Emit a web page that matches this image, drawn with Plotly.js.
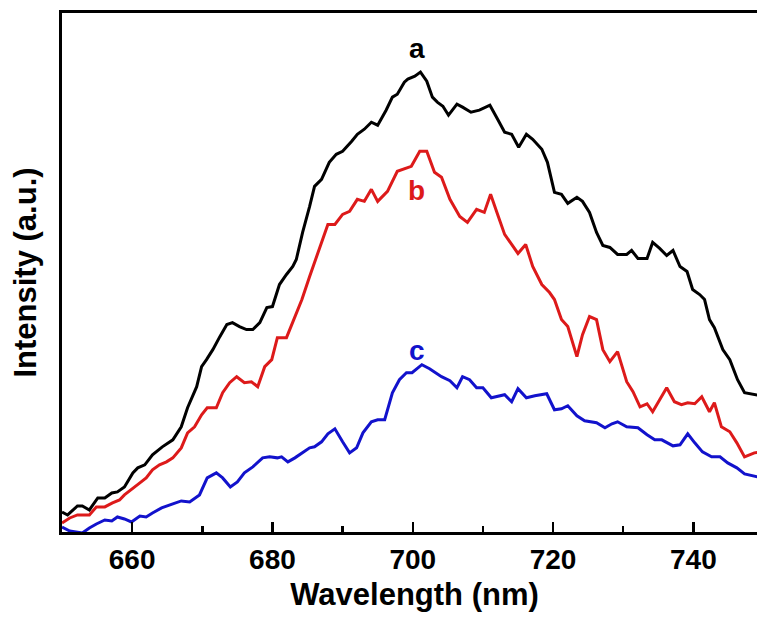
<!DOCTYPE html>
<html>
<head>
<meta charset="utf-8">
<script src="https://cdn.plot.ly/plotly-3.0.1.min.js"></script>
<style>
html, body { margin:0; padding:0; overflow:hidden; background:#fff; }
#chart { width:767px; height:617px; }
</style>
</head>
<body>
<div id="chart"></div>
<script>
// Wavelength (nm) and intensity (a.u.)
const waveA = [650.0,650.8,652.2,652.9,653.9,655.1,656.1,657.1,657.9,658.9,660.1,660.8,661.8,662.9,664.3,665.8,667.0,667.9,669.2,669.9,670.6,671.5,672.5,673.5,674.3,675.3,676.3,677.2,678.2,679.2,680.0,681.0,682.0,682.9,683.4,684.3,685.3,686.0,687.0,688.1,689.1,690.0,691.3,692.1,693.1,694.1,695.0,696.2,697.1,697.8,698.8,699.3,700.3,701.1,702.0,702.8,703.5,704.3,705.1,706.3,707.1,708.3,709.5,711.0,712.1,713.1,714.1,715.1,716.2,717.1,718.4,719.2,720.2,721.2,722.1,723.4,724.2,725.2,726.2,727.1,728.1,729.2,730.5,731.2,732.1,733.4,734.2,735.2,736.2,737.1,738.1,739.1,739.9,740.9,741.6,742.3,743.0,744.2,745.2,746.3,747.3,749.0,750.5];
const intA  = [21,18,27,27,23,35,35,40,41,46,60,65,68,78,86,93,106,125,146,166,173,183,196,208,210,206,203,203,210,225,226,248,258,266,273,300,326,346,353,370,378,381,391,398,403,410,407,422,435,438,450,453,456,460,451,435,430,426,417,428,425,420,422,427,413,400,398,385,398,393,383,370,340,338,329,335,331,320,300,287,285,278,278,282,274,274,290,284,277,282,266,261,243,238,233,213,205,183,173,153,140,138,136];

const waveB = [650.0,651.1,652.2,653.9,654.9,656.1,657.2,658.2,658.9,660.1,661.1,662.0,662.9,663.9,664.9,665.8,667.0,667.9,668.9,669.9,670.7,672.0,672.9,673.9,674.9,676.0,677.0,677.9,678.9,679.9,680.7,682.0,682.9,684.2,685.3,686.7,687.9,688.9,690.0,691.0,692.1,693.1,694.1,695.0,696.4,697.8,699.8,701.0,702.0,703.1,704.1,705.3,706.7,707.8,709.1,710.2,711.1,712.1,713.1,714.1,715.0,716.1,717.1,718.4,719.5,720.2,721.2,722.1,723.4,724.2,725.2,726.2,727.1,728.1,729.2,730.5,731.4,732.4,733.4,734.2,736.2,737.3,738.3,739.2,740.2,741.2,742.3,743.0,744.0,745.2,746.2,747.3,748.7,750.5];
const intB  = [10,15,18,18,26,26,30,33,38,45,50,55,63,68,71,75,85,100,106,118,125,125,140,150,156,150,151,146,166,173,195,195,210,233,256,283,308,308,318,321,333,331,343,331,341,361,366,381,381,360,355,333,316,310,323,320,338,318,298,288,279,288,266,248,240,233,213,206,176,198,216,213,183,171,181,151,141,126,129,121,145,131,128,130,129,136,121,130,106,101,90,76,80,82];

const waveC = [650.0,651.1,652.9,653.9,654.9,656.1,657.1,657.9,658.9,659.9,661.1,662.0,662.9,664.2,665.8,667.0,668.2,669.6,670.7,672.0,672.9,674.0,675.0,676.0,677.2,678.6,679.6,680.7,681.3,682.2,683.2,684.2,685.3,686.0,687.0,687.9,688.9,690.0,691.0,692.0,692.9,694.1,695.0,696.0,697.1,698.1,699.1,699.9,701.3,702.4,704.1,705.3,706.3,707.1,708.1,709.1,710.0,711.2,713.1,714.1,715.0,716.2,717.4,719.1,720.2,721.2,722.1,723.4,724.5,726.2,727.4,728.4,729.2,730.5,732.1,733.4,734.5,735.5,737.1,738.1,739.2,740.2,741.3,742.6,743.8,744.9,746.2,747.3,749.0,750.5];
const intC  = [6,2,0,5,9,13,12,16,14,11,17,16,20,25,29,32,31,38,55,60,55,46,51,60,66,75,76,75,76,71,75,80,85,86,91,99,104,91,80,85,100,111,113,113,140,153,160,160,168,164,156,152,145,156,153,145,145,135,138,131,144,135,137,139,123,124,127,117,112,110,105,109,111,106,105,98,93,93,87,88,99,90,81,76,76,70,65,59,56,54];

const seriesNames  = ['a', 'b', 'c'];
const seriesColors = ['#000000', '#dd1a1a', '#1212cc'];
const labelWave = [700.6, 700.6, 700.6];
const labelInt  = [484, 342, 182];
const tickVals  = [660, 680, 700, 720, 740];
const tickText  = ['660', '680', '700', '720', '740'];

const waves = [waveA, waveB, waveC];
const ints  = [intA, intB, intC];

const traces = waves.map((w, i) => ({
  x: w, y: ints[i], type: 'scatter', mode: 'lines', name: seriesNames[i],
  line: { color: seriesColors[i], width: 3 }, showlegend: false
}));

const annotations = seriesNames.map((n, i) => ({
  x: labelWave[i], y: labelInt[i], xref: 'x', yref: 'y', text: n, showarrow: false,
  font: { family: 'Liberation Sans, Arial, sans-serif', size: 28, color: seriesColors[i], weight: 'bold' },
  xanchor: 'center', yanchor: 'middle'
}));

const layout = {
  width: 767, height: 617,
  margin: { l: 62, r: 0, t: 13, b: 85 },
  paper_bgcolor: '#fff', plot_bgcolor: '#fff',
  font: { family: 'Liberation Sans, Arial, sans-serif', color: '#000' },
  xaxis: {
    range: [650, 750.5], showgrid: false, zeroline: false,
    showline: true, linecolor: '#000', linewidth: 3, mirror: true,
    tickmode: 'array', tickvals: tickVals, ticktext: tickText,
    ticks: 'inside', ticklen: 10, tickwidth: 2.5, tickcolor: '#000',
    minor: { dtick: 10, tick0: 650, ticks: 'inside', ticklen: 6, tickwidth: 2.5, tickcolor: '#000', showgrid: false },
    tickfont: { size: 28, weight: 'bold', color: '#000' },
    title: { text: 'Wavelength (nm)', font: { size: 31, weight: 'bold', color: '#000' }, standoff: 10 },
    automargin: false, fixedrange: true
  },
  yaxis: {
    range: [1, 519], showgrid: false, zeroline: false,
    showline: true, linecolor: '#000', linewidth: 3, mirror: true,
    ticks: '', showticklabels: false,
    title: { text: 'Intensity (a.u.)', font: { size: 31, weight: 'bold', color: '#000' }, standoff: 14 },
    automargin: false, fixedrange: true
  },
  annotations: annotations
};

Plotly.newPlot('chart', traces, layout, { staticPlot: true, displayModeBar: false });
</script>
</body>
</html>
